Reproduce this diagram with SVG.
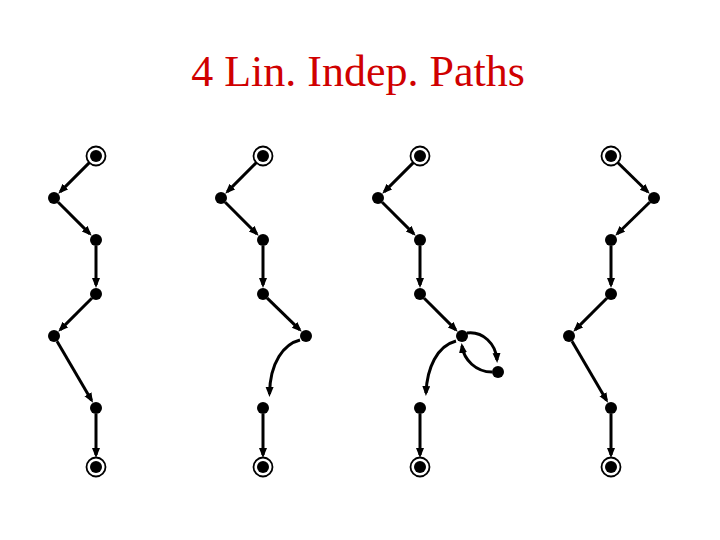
<svg xmlns="http://www.w3.org/2000/svg" width="720" height="540" viewBox="0 0 720 540">
<defs>
<style>
.t{font-family:"Liberation Serif","Times New Roman",serif;font-size:44px;fill:#d00000}
.e{fill:none;stroke:#000;stroke-width:3;marker-end:url(#ah)}
.n{fill:#000}
.r{fill:none;stroke:#000;stroke-width:1.8}
</style>
<marker id="ah" markerUnits="userSpaceOnUse" markerWidth="11" markerHeight="9" refX="7" refY="4" orient="auto">
<path d="M0,0 L10,4 L0,8 z" fill="#000"/>
</marker>
</defs>
<rect width="720" height="540" fill="#fff"/>
<text class="t" x="358" y="86" text-anchor="middle">4 Lin. Indep. Paths</text>
<g id="connectors">
<path class="e" d="M89.6,162.4 L60.4,191.6"/>
<path class="e" d="M58.2,202.2 L89.6,233.6"/>
<path class="e" d="M96,246 L96,285"/>
<path class="e" d="M91.8,298.2 L60.4,329.6"/>
<path class="e" d="M57,341.2 L91.5,400.2"/>
<path class="e" d="M96,414 L96,455"/>
<path class="e" d="M256.6,162.4 L227.4,191.6"/>
<path class="e" d="M225.2,202.2 L256.6,233.6"/>
<path class="e" d="M263,246 L263,285"/>
<path class="e" d="M267.2,298.2 L299.6,329.7"/>
<path class="e" d="M300,340 C284,344 270,362 269.5,394"/>
<path class="e" d="M263,414 L263,455"/>
<path class="e" d="M413.6,162.4 L384.4,191.6"/>
<path class="e" d="M382.2,202.2 L413.6,233.6"/>
<path class="e" d="M420,246 L420,285"/>
<path class="e" d="M424.2,298.2 L455.6,329.6"/>
<path class="e" d="M467,333 C483,331 496,344 497,360"/>
<path class="e" d="M492,372 C476,372 464,360 462,346"/>
<path class="e" d="M456,341 C437,346 427,368 426,393"/>
<path class="e" d="M420,414 L420,455"/>
<path class="e" d="M617.4,162.3 L647.6,191.7"/>
<path class="e" d="M649.7,202.2 L617.4,233.7"/>
<path class="e" d="M611,246 L611,285"/>
<path class="e" d="M606.8,298.2 L575.4,329.6"/>
<path class="e" d="M572,341.2 L606.5,400.2"/>
<path class="e" d="M611,414 L611,455"/>
</g>
<g id="c1a"><circle class="r" cx="96" cy="156" r="9.5"/><circle class="n" cx="96" cy="156" r="6"/></g>
<g id="c1b"><circle class="n" cx="54" cy="198" r="6"/></g>
<g id="c1c"><circle class="n" cx="96" cy="240" r="6"/></g>
<g id="c1d"><circle class="n" cx="96" cy="294" r="6"/></g>
<g id="c1e"><circle class="n" cx="54" cy="336" r="6"/></g>
<g id="c1f"><circle class="n" cx="96" cy="408" r="6"/></g>
<g id="c1g"><circle class="r" cx="96" cy="467" r="9.5"/><circle class="n" cx="96" cy="467" r="6"/></g>
<g id="c2a"><circle class="r" cx="263" cy="156" r="9.5"/><circle class="n" cx="263" cy="156" r="6"/></g>
<g id="c2b"><circle class="n" cx="221" cy="198" r="6"/></g>
<g id="c2c"><circle class="n" cx="263" cy="240" r="6"/></g>
<g id="c2d"><circle class="n" cx="263" cy="294" r="6"/></g>
<g id="c2e"><circle class="n" cx="306" cy="336" r="6"/></g>
<g id="c2f"><circle class="n" cx="263" cy="408" r="6"/></g>
<g id="c2g"><circle class="r" cx="263" cy="467" r="9.5"/><circle class="n" cx="263" cy="467" r="6"/></g>
<g id="c3a"><circle class="r" cx="420" cy="156" r="9.5"/><circle class="n" cx="420" cy="156" r="6"/></g>
<g id="c3b"><circle class="n" cx="378" cy="198" r="6"/></g>
<g id="c3c"><circle class="n" cx="420" cy="240" r="6"/></g>
<g id="c3d"><circle class="n" cx="420" cy="294" r="6"/></g>
<g id="c3e"><circle class="n" cx="462" cy="336" r="6"/></g>
<g id="c3l"><circle class="n" cx="498" cy="372" r="6"/></g>
<g id="c3f"><circle class="n" cx="420" cy="408" r="6"/></g>
<g id="c3g"><circle class="r" cx="420" cy="467" r="9.5"/><circle class="n" cx="420" cy="467" r="6"/></g>
<g id="c4a"><circle class="r" cx="611" cy="156" r="9.5"/><circle class="n" cx="611" cy="156" r="6"/></g>
<g id="c4b"><circle class="n" cx="654" cy="198" r="6"/></g>
<g id="c4c"><circle class="n" cx="611" cy="240" r="6"/></g>
<g id="c4d"><circle class="n" cx="611" cy="294" r="6"/></g>
<g id="c4e"><circle class="n" cx="569" cy="336" r="6"/></g>
<g id="c4f"><circle class="n" cx="611" cy="408" r="6"/></g>
<g id="c4g"><circle class="r" cx="611" cy="467" r="9.5"/><circle class="n" cx="611" cy="467" r="6"/></g>
</svg>
